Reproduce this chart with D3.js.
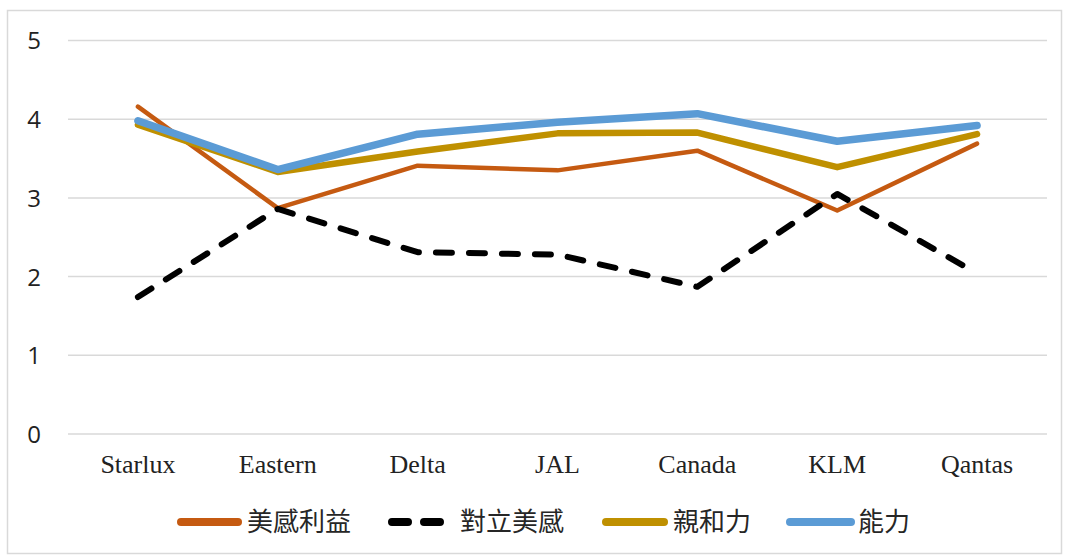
<!DOCTYPE html>
<html><head><meta charset="utf-8">
<script src="https://cdn.jsdelivr.net/npm/d3@7"></script>
<style>body{margin:0;background:#fff}</style>
</head><body>
<svg id="c" width="1065" height="557"></svg>
<script>
const categories = ["Starlux","Eastern","Delta","JAL","Canada","KLM","Qantas"];
const seriesNames = ["美感利益","對立美感","親和力","能力"];
const aestheticBenefit = [4.16, 2.87, 3.41, 3.35, 3.60, 2.84, 3.69];
const opposingAesthetic = [1.74, 2.86, 2.31, 2.28, 1.87, 3.05, 2.04];
const affinity = [3.93, 3.33, 3.59, 3.82, 3.83, 3.39, 3.81];
const ability = [3.98, 3.36, 3.81, 3.96, 4.07, 3.72, 3.92];
const yTicks = [0,1,2,3,4,5];

const styles = [
  {color:"#C55A11", width:4.5, dash:null},
  {color:"#000000", width:6, dash:"16,17"},
  {color:"#BF9000", width:6.5, dash:null},
  {color:"#5B9BD5", width:7.5, dash:null}
];
const data = [aestheticBenefit, opposingAesthetic, affinity, ability];

const svg = d3.select("#c");
svg.append("rect").attr("x",7.5).attr("y",10.5).attr("width",1054).attr("height",543)
  .attr("fill","#fff").attr("stroke","#d9d9d9").attr("stroke-width",1.5);

const x = d3.scaleBand().domain(categories).range([68,1047]);
const y = d3.scaleLinear().domain([0,5]).range([434,40.5]);

// gridlines
svg.append("g").selectAll("line").data(yTicks).join("line")
  .attr("x1",68).attr("x2",1047)
  .attr("y1",d=>y(d)).attr("y2",d=>y(d))
  .attr("stroke","#d9d9d9").attr("stroke-width",1.5);

// y axis labels
const yAxis = d3.axisLeft(y).tickValues(yTicks).tickFormat(d3.format("d")).tickSize(0).tickPadding(0);
const gy = svg.append("g").attr("transform","translate(41,0)").call(yAxis);
gy.select(".domain").remove();
gy.selectAll("text").attr("font-family","'Open Sans','Noto Sans',sans-serif")
  .attr("font-size",24).attr("fill","#222").attr("dy","0.35em");

// x axis labels
const xAxis = d3.axisBottom(x).tickSize(0).tickPadding(0);
const gx = svg.append("g").attr("transform","translate(0,465)").call(xAxis);
gx.select(".domain").remove();
gx.selectAll("text").attr("font-family","'Liberation Serif','Times New Roman',serif")
  .attr("font-size",26).attr("fill","#222").attr("dy","0.32em");

const line = d3.line().x((d,i)=>x(categories[i])+x.bandwidth()/2).y(d=>y(d));
[0,1,2,3].forEach(k=>{
  const s = styles[k];
  svg.append("path").datum(data[k]).attr("d",line)
    .attr("fill","none").attr("stroke",s.color).attr("stroke-width",s.width)
    .attr("stroke-linejoin","round").attr("stroke-linecap","round")
    .attr("stroke-dasharray",s.dash);
});

// legend
const legLine = [[181,238],[392,440],[606,664],[790,851]];
const legText = [247, 460, 673, 858];
const lg = svg.append("g").attr("transform","translate(0,522)");
seriesNames.forEach((n,k)=>{
  const s = styles[k];
  lg.append("line").attr("x1",legLine[k][0]).attr("x2",legLine[k][1]).attr("y1",0).attr("y2",0)
    .attr("stroke",s.color).attr("stroke-width",8).attr("stroke-linecap","round")
    .attr("stroke-dasharray",k===1?"16,16":null);
  lg.append("text").attr("x",legText[k]).attr("y",0).attr("dy","0.36em")
    .attr("font-family","'Noto Sans CJK TC','Noto Sans CJK SC',sans-serif")
    .attr("font-size",26).attr("fill","#262626").text(n);
});
</script>
</body></html>
